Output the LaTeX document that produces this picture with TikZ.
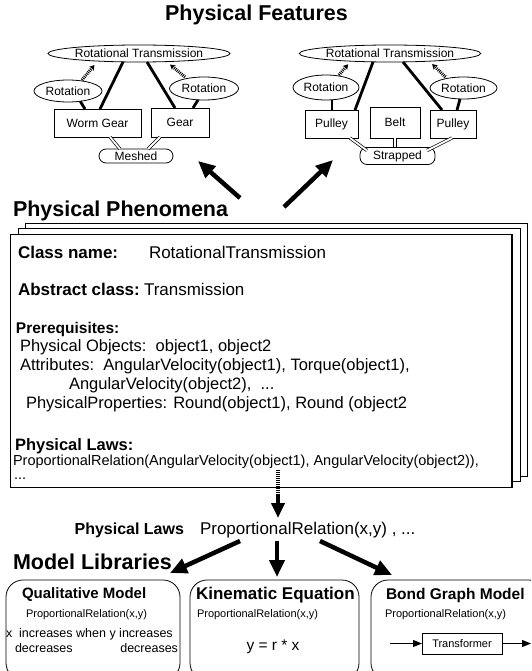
\documentclass[tikz,border=0pt]{standalone}
\usepackage{fontspec}
\setmainfont{Liberation Sans}
\usetikzlibrary{arrows.meta,shapes.geometric}
\newcommand{\pxfont}[1]{\fontsize{#1}{#1}\selectfont}

\begin{document}
\begin{tikzpicture}[x=1pt,y=-1pt,
  every node/.style={inner sep=0pt, outer sep=0pt},
  heading/.style={font=\pxfont{21.5}\bfseries, anchor=base west},
  small/.style={font=\pxfont{12}},
  oval/.style={draw, ellipse, line width=0.8pt, small},
  objbox/.style={draw, line width=0.8pt, small},
  relbox/.style={draw, rounded corners=7pt, line width=0.8pt, small},
  link/.style={line width=2.8pt},
  bond/.style={double, double distance=1.8pt, line width=0.7pt},
  hatched/.style={line width=3.2pt, dash pattern=on 0.9pt off 1pt, -{Stealth[length=5pt,width=6pt]}},
  bigarrow/.style={line width=4.5pt, -{Triangle[length=17pt,width=15pt]}},
  card/.style={draw, fill=white, line width=0.8pt, minimum width=502pt, minimum height=253pt, anchor=north west},
  txt/.style={font=\pxfont{16.5}, anchor=base west},
  txtb/.style={font=\pxfont{17}\bfseries, anchor=base west},
  lib/.style={draw, line width=0.8pt, rounded corners=17pt, anchor=north west, minimum height=100pt},
  libhead/.style={font=\pxfont{15}\bfseries, anchor=base west},
  libsmall/.style={font=\pxfont{11}, anchor=base west},
  libtext/.style={font=\pxfont{12.5}, anchor=base west},
]
\useasboundingbox (0,0) rectangle (531,671);
\clip (0,0) rectangle (531,671);

% ---------- Physical features ----------
\node[heading, anchor=base] (featTitle) at (256.5,21) {Physical Features};

% worm gear / gear
\node[oval, minimum width=182pt, minimum height=17pt] (rtA) at (139,53.5) {Rotational Transmission};
\node[oval, minimum width=68pt, minimum height=22pt] (rotA1) at (68,91) {Rotation};
\node[oval, minimum width=69pt, minimum height=23pt] (rotA2) at (204,88.5) {Rotation};
\node[objbox, minimum width=87pt, minimum height=28pt] (worm) at (97.5,123) {Worm Gear};
\node[objbox, minimum width=58pt, minimum height=29pt] (gear) at (180,122.5) {Gear};
\node[relbox, minimum width=74pt, minimum height=14pt] (mesh) at (136,156) {Meshed};

\draw[link] ([xshift=-16pt]rtA.south) -- ([xshift=2.5pt]worm.north);
\draw[link] ([xshift=8pt]rtA.south) -- ([xshift=-5pt]gear.north);
\draw[link] (rotA1.-40) -- ([xshift=-12.5pt]worm.north);
\draw[link] ([xshift=-6pt]rotA2.south) -- ([xshift=13pt]gear.north);
\draw[hatched, shorten >=4pt] ([xshift=14pt]rotA1.north) -- ([xshift=-42pt]rtA.south);
\draw[hatched, shorten >=4pt] ([xshift=-19pt]rotA2.north) -- ([xshift=28pt]rtA.south);
\draw[bond] ([xshift=12.5pt]worm.south) -- ([xshift=-16pt]mesh.north);
\draw[bond] ([xshift=-20pt]gear.south) -- ([xshift=12pt]mesh.north);

% pulleys and belt
\node[oval, minimum width=176pt, minimum height=17pt] (rtB) at (390,53.5) {Rotational Transmission};
\node[oval, minimum width=66pt, minimum height=25pt] (rotB1) at (326,87.5) {Rotation};
\node[oval, minimum width=67pt, minimum height=22pt] (rotB2) at (463.5,88) {Rotation};
\node[objbox, minimum width=53pt, minimum height=28pt] (pulA) at (331.5,124) {Pulley};
\node[objbox, minimum width=50pt, minimum height=31pt] (belt) at (395,122.5) {Belt};
\node[objbox, minimum width=46pt, minimum height=28pt] (pulB) at (453,124) {Pulley};
\node[relbox, minimum width=75pt, minimum height=17pt] (strap) at (397.5,156) {Strapped};

\draw[link] ([xshift=-17pt]rtB.south) -- ([xshift=23.5pt]pulA.north);
\draw[link] ([xshift=13pt]rtB.south) -- ([xshift=-11pt]pulB.north);
\draw[link] ([xshift=6pt]rotB1.south) -- ([xshift=0.5pt]pulA.north);
\draw[link] ([xshift=-3.5pt]rotB2.south) -- ([xshift=4pt]pulB.north);
\draw[hatched, shorten >=3pt] ([xshift=13pt]rotB1.north) -- ([xshift=-40pt]rtB.south);
\draw[hatched, shorten >=3pt] ([xshift=-18pt]rotB2.north) -- ([xshift=40pt]rtB.south);
\draw[bond] ([xshift=18.5pt]pulA.south) -- ([xshift=7pt,yshift=-3pt]strap.north west);
\draw[bond] (belt.south) -- (belt.south |- strap.north);
\draw[bond] ([xshift=-1pt]pulB.south) -- ([xshift=-8pt,yshift=-3pt]strap.north east);

% arrows up to the features
\coordinate (upTailA) at (240,198);
\coordinate (upTipA) at (198,161);
\coordinate (upTailB) at (284,207);
\coordinate (upTipB) at (333,160);
\draw[bigarrow] (upTailA) -- (upTipA);
\draw[bigarrow] (upTailB) -- (upTipB);

% ---------- Physical phenomena ----------
\node[heading] (phenTitle) at (13,216) {Physical Phenomena};
\node[card] (cardC) at (25,223) {};
\node[card] (cardB) at (18,228) {};
\node[card] (cardA) at (10,234) {};
\draw[line width=2pt] (cardA.north east) -- (cardA.south east);

\node[txtb] (cn) at (18,258) {Class name:};
\node[txt, font=\pxfont{17}] (cnv) at (149,258) {RotationalTransmission};
\node[txtb] (ac) at (18,295) {Abstract class:};
\node[txt, font=\pxfont{17}] (acv) at (144,295) {Transmission};
\node[txtb, font=\pxfont{15.5}\bfseries] (pre) at (16,333) {Prerequisites:};
\node[txt] (po) at (20,351) {Physical Objects:\ \ object1, object2};
\node[txt] (at) at (20,370) {Attributes:\ \ AngularVelocity(object1), Torque(object1),};
\node[txt] (at2) at (69,389) {AngularVelocity(object2),\ \ ...};
\node[txt] (pp) at (26,408) {PhysicalProperties: Round(object1), Round (object2};
\node[txtb, font=\pxfont{16.5}\bfseries] (pl) at (15,450) {Physical Laws:};
\node[txt, font=\pxfont{14.5}] (plv) at (13,465) {ProportionalRelation(AngularVelocity(object1), AngularVelocity(object2)),};
\node[txt, font=\pxfont{14.5}] (pldots) at (14,479) {...};

% arrow down to the laws
\coordinate (dTop) at (278,470);
\coordinate (dMid) at (278,494);
\coordinate (dTip) at (278,518);
\draw[line width=4.5pt, dash pattern=on 1pt off 1pt] (dTop) -- (dMid);
\draw[line width=4.5pt, -{Triangle[length=15pt,width=13pt]}] ([yshift=0.5pt]dMid) -- (dTip);

\node[font=\pxfont{16}\bfseries, anchor=base east] (lawLbl) at (184,534) {Physical Laws};
\node[txt, font=\pxfont{17}] (lawVal) at (200,534) {ProportionalRelation(x,y) , ...};

% ---------- Model libraries ----------
\node[heading] (libTitle) at (13,569) {Model Libraries};

\coordinate (sA) at (240,541);
\coordinate (tA) at (170,573);
\coordinate (sB) at (277,541);
\coordinate (tB) at (277,577);
\coordinate (sC) at (320,541);
\coordinate (tC) at (392,575);
\draw[bigarrow] (sA) -- (tA);
\draw[bigarrow] (sB) -- (tB);
\draw[bigarrow] (sC) -- (tC);

\node[lib, minimum width=174pt] (qual) at (6,580) {};
\node[lib, minimum width=169pt] (kin) at (190,580) {};
\node[lib, minimum width=175pt] (bond) at (371,580) {};

\node[libhead] (qualT) at (22,598) {Qualitative Model};
\node[libsmall] (qualP) at (26,617) {ProportionalRelation(x,y)};
\node[libtext] (qualR1) at (6,637) {x\ \ increases when y increases};
\node[libtext] (qualR2a) at (15,652) {decreases};
\node[libtext, anchor=base east] (qualR2b) at (178,652) {decreases};

\node[libhead, font=\pxfont{17}\bfseries] (kinT) at (196,599) {Kinematic Equation};
\node[libsmall] (kinP) at (197,617) {ProportionalRelation(x,y)};
\node[font=\pxfont{15.5}, anchor=base] (kinEq) at (273,650) {y = r * x};

\node[libhead, font=\pxfont{15.5}\bfseries] (bondT) at (386,599) {Bond Graph Model};
\node[libsmall] (bondP) at (385,617) {ProportionalRelation(x,y)};
\node[draw, line width=0.8pt, minimum width=80pt, minimum height=21pt, font=\pxfont{11}] (trans) at (462,643.5) {Transformer};
\coordinate (bIn) at (390,643.5);
\coordinate (bOut) at (531,643.5);
\draw[line width=1pt, -{Triangle[length=9pt,width=7pt]}] (bIn) -- (trans.west);
\draw[line width=1pt, -{Triangle[length=9pt,width=7pt]}] (trans.east) -- (bOut);
\end{tikzpicture}
\end{document}
